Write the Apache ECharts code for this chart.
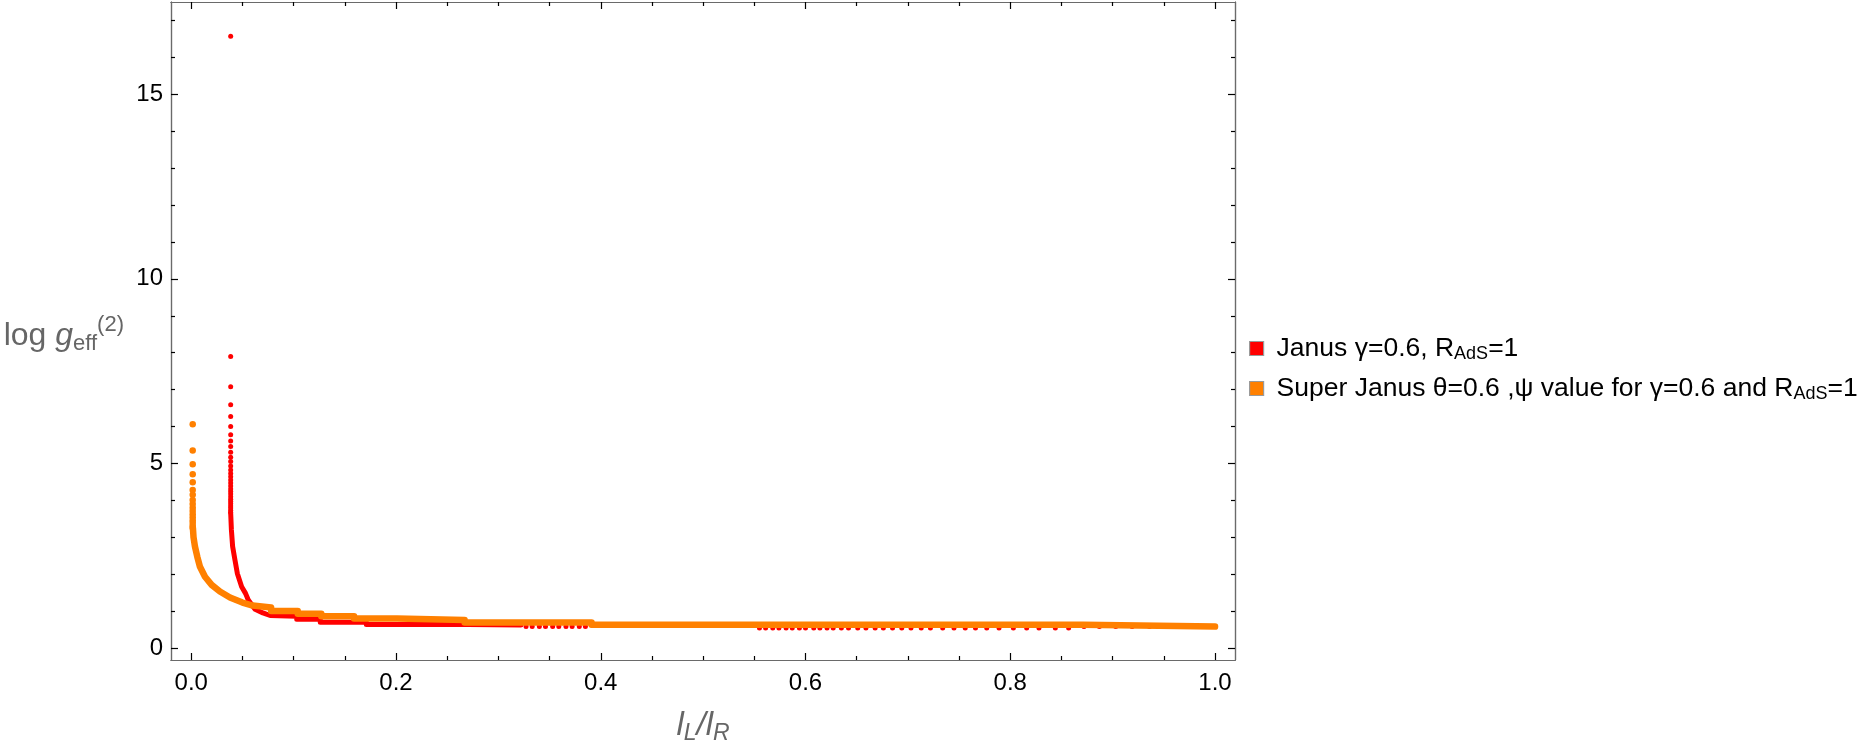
<!DOCTYPE html>
<html>
<head>
<meta charset="utf-8">
<script src="https://cdn.jsdelivr.net/npm/echarts@6/dist/echarts.min.js"></script>
<style>
  html, body { margin: 0; padding: 0; background: #fff; }
  #main { width: 1868px; height: 748px; }
</style>
</head>
<body>
<div id="main"></div>
<script>
// tick positions
const xMajor = [0, 0.2, 0.4, 0.6, 0.8, 1.0];
const xMinor = [0.05, 0.1, 0.15, 0.25, 0.3, 0.35, 0.45, 0.5, 0.55, 0.65, 0.7, 0.75, 0.85, 0.9, 0.95];
const yMajor = [0, 5, 10, 15];
const yMinor = [1, 2, 3, 4, 6, 7, 8, 9, 11, 12, 13, 14, 16, 17];

// Janus: isolated points near the spike
const janusSpike = [
  [0.0385, 16.57], [0.0385, 7.90], [0.0385, 7.08], [0.0385, 6.59], [0.0385, 6.27],
  [0.0385, 6.00], [0.0385, 5.78], [0.0385, 5.61], [0.0385, 5.46], [0.0385, 5.30],
  [0.0385, 5.17], [0.0385, 5.05], [0.0385, 4.93], [0.0385, 4.82], [0.0385, 4.73],
  [0.0385, 4.64], [0.0385, 4.55], [0.0385, 4.47], [0.0385, 4.39], [0.0385, 4.31],
  [0.0385, 4.24], [0.0385, 4.17], [0.0385, 4.10], [0.0385, 4.03], [0.0385, 3.97],
  [0.0385, 3.91], [0.0385, 3.85], [0.0385, 3.79], [0.0385, 3.73], [0.0385, 3.68]
];
// Janus: dense part (points overlap into a band)
const janusCurve = [
  [0.0385, 3.65], [0.0392, 3.2], [0.0404, 2.75], [0.0427, 2.38], [0.045, 2.02],
  [0.0492, 1.66], [0.053, 1.48], [0.0557, 1.30], [0.0623, 1.05], [0.070, 0.95],
  [0.077, 0.88], [0.103, 0.86], [0.103, 0.78], [0.126, 0.78], [0.126, 0.70],
  [0.171, 0.70], [0.171, 0.64], [0.27, 0.64], [0.27, 0.62], [0.322, 0.62]
];
// Janus: sparse points in the flat tail
const janusTail = [
  [0.327, 0.58], [0.333, 0.58], [0.340, 0.58], [0.346, 0.58], [0.353, 0.58],
  [0.359, 0.58], [0.366, 0.58], [0.372, 0.58], [0.379, 0.58], [0.385, 0.58],
  [0.392, 0.61], [0.406, 0.61], [0.420, 0.61], [0.434, 0.61], [0.448, 0.61],
  [0.462, 0.61], [0.476, 0.61], [0.490, 0.61], [0.504, 0.61], [0.518, 0.61],
  [0.532, 0.61], [0.546, 0.61],
  [0.555, 0.54], [0.561, 0.54], [0.568, 0.54], [0.574, 0.54], [0.581, 0.54],
  [0.587, 0.54], [0.594, 0.54], [0.600, 0.54], [0.608, 0.54], [0.614, 0.54],
  [0.621, 0.54], [0.627, 0.54], [0.635, 0.54], [0.642, 0.54], [0.651, 0.54],
  [0.659, 0.54], [0.668, 0.54], [0.676, 0.54], [0.685, 0.54], [0.694, 0.54],
  [0.703, 0.54], [0.713, 0.54], [0.722, 0.54], [0.734, 0.54], [0.745, 0.54],
  [0.756, 0.54], [0.766, 0.54], [0.777, 0.54], [0.789, 0.54], [0.803, 0.54],
  [0.816, 0.54], [0.828, 0.54], [0.844, 0.54], [0.857, 0.54], [0.872, 0.58],
  [0.887, 0.58], [0.903, 0.58], [0.919, 0.58], [0.936, 0.58], [0.953, 0.58],
  [0.970, 0.58], [0.988, 0.58]
];

// Super Janus: isolated points near x=0
const superSpike = [
  [0.0014, 6.06], [0.0014, 5.35], [0.0014, 4.98], [0.0014, 4.71], [0.0014, 4.49],
  [0.0014, 4.28], [0.0014, 4.15], [0.0014, 4.01], [0.0014, 3.90], [0.0014, 3.80],
  [0.0014, 3.71], [0.0014, 3.62], [0.0014, 3.54], [0.0014, 3.46], [0.0014, 3.39],
  [0.0014, 3.32], [0.0014, 3.26]
];
// Super Janus: dense part
const superCurve = [
  [0.0016, 3.25], [0.0022, 3.0], [0.0036, 2.75], [0.0059, 2.47], [0.0085, 2.2],
  [0.0134, 1.93], [0.0199, 1.71], [0.028, 1.53], [0.0378, 1.37], [0.050, 1.23],
  [0.060, 1.15], [0.060, 1.10], [0.078, 1.10], [0.078, 1.0], [0.104, 1.0],
  [0.104, 0.93], [0.127, 0.93], [0.127, 0.86], [0.159, 0.86], [0.159, 0.80],
  [0.201, 0.80], [0.201, 0.76], [0.267, 0.76], [0.267, 0.69], [0.391, 0.69],
  [0.391, 0.63], [0.871, 0.63], [0.871, 0.58], [1.0, 0.58]
];

const RED = '#ff0000';
const ORANGE = '#ff8000';
const FONT = '"Liberation Sans", Arial, sans-serif';
const X_MIN = -0.0198, X_MAX = 1.0195;
const Y_MIN = -0.325, Y_MAX = 17.5;

const legendNames = {
  janus: '{t|Janus γ=0.6, R}{sub|AdS}{t|=1}',
  super: '{t|Super Janus θ=0.6 ,ψ value for γ=0.6 and R}{sub|AdS}{t|=1}'
};

const chartDom = document.getElementById('main');
const myChart = echarts.init(chartDom, null, { renderer: 'canvas' });

const frameLine = { show: true, onZero: false, lineStyle: { color: '#6a6a6a', width: 1.2 } };

function xAx(pos, ticks, len, withLabel) {
  return {
    type: 'value', position: pos, min: X_MIN, max: X_MAX, offset: 0,
    axisLine: frameLine,
    splitLine: { show: false },
    axisTick: { show: true, inside: true, length: len, customValues: ticks, lineStyle: { color: '#000', width: 1.2 } },
    axisLabel: withLabel ? {
      show: true, customValues: ticks, margin: 11, color: '#000', fontSize: 24, fontFamily: FONT,
      formatter: v => v.toFixed(1)
    } : { show: false }
  };
}
function yAx(pos, ticks, len, withLabel) {
  return {
    type: 'value', position: pos, min: Y_MIN, max: Y_MAX, offset: 0,
    axisLine: frameLine,
    splitLine: { show: false },
    axisTick: { show: true, inside: true, length: len, customValues: ticks, lineStyle: { color: '#000', width: 1.2 } },
    axisLabel: withLabel ? {
      show: true, customValues: ticks, margin: 8, color: '#000', fontSize: 24, fontFamily: FONT
    } : { show: false }
  };
}

const xAxes = [
  xAx('bottom', xMajor, 7, true),
  xAx('bottom', xMinor, 4, false),
  xAx('top', xMajor, 7, false),
  xAx('top', xMinor, 4, false)
];
xAxes[0].name = '{i|l}{s|L}{i|/l}{s|R}';
xAxes[0].nameLocation = 'middle';
xAxes[0].nameGap = 47;
xAxes[0].nameTextStyle = {
  color: '#666', fontFamily: FONT,
  rich: {
    i: { fontSize: 33, fontStyle: 'italic', color: '#666', fontFamily: FONT },
    s: { fontSize: 23, fontStyle: 'italic', color: '#666', fontFamily: FONT, padding: [15, 0, 0, 0] }
  }
};

const yAxes = [
  yAx('left', yMajor, 7, true),
  yAx('left', yMinor, 4, false),
  yAx('right', yMajor, 7, false),
  yAx('right', yMinor, 4, false)
];
yAxes[0].name = '{t|log }{i|g}{s|eff}{p|(2)}';
yAxes[0].nameLocation = 'middle';
yAxes[0].nameRotate = 0;
yAxes[0].nameGap = 47;
yAxes[0].nameTextStyle = {
  color: '#666', fontFamily: FONT, padding: [10, 0, 0, 0],
  rich: {
    t: { fontSize: 32, color: '#666', fontFamily: FONT },
    i: { fontSize: 32, fontStyle: 'italic', color: '#666', fontFamily: FONT },
    s: { fontSize: 22, color: '#666', fontFamily: FONT, padding: [15, 0, 0, 0] },
    p: { fontSize: 22, color: '#666', fontFamily: FONT, padding: [0, 0, 23, 0] }
  }
};

const legendText = {
  color: '#000', fontFamily: FONT, fontSize: 26.5, padding: [0, 0, 0, 8],
  rich: {
    t: { fontSize: 26.5, color: '#000', fontFamily: FONT },
    sub: { fontSize: 18, color: '#000', fontFamily: FONT, padding: [12, 0, 0, 0] }
  }
};
function legendAt(name, top) {
  return {
    data: [name], orient: 'vertical', left: 1244, top: top,
    icon: 'rect', itemWidth: 14, itemHeight: 14,
    itemStyle: { borderColor: '#9a9a9a', borderWidth: 1.2 },
    selectedMode: false,
    formatter: n => legendNames[n],
    textStyle: legendText
  };
}

const option = {
  animation: false,
  backgroundColor: '#fff',
  grid: { left: 171, top: 2, width: 1064, height: 658, containLabel: false, outerBoundsMode: 'none' },
  legend: [legendAt('janus', 330), legendAt('super', 370)],
  xAxis: xAxes,
  yAxis: yAxes,
  series: [
    {
      name: 'janus', type: 'scatter', data: janusSpike, symbolSize: 5,
      itemStyle: { color: RED, opacity: 1 }, silent: true, z: 2
    },
    {
      name: 'janus', type: 'line', data: janusCurve, showSymbol: false, symbol: 'none',
      lineStyle: { color: RED, width: 5, cap: 'round', join: 'round' },
      itemStyle: { color: RED }, silent: true, z: 2
    },
    {
      name: 'janus', type: 'scatter', data: janusTail, symbolSize: 5,
      itemStyle: { color: RED, opacity: 1 }, silent: true, z: 2
    },
    {
      name: 'super', type: 'scatter', data: superSpike, symbolSize: 6.5,
      itemStyle: { color: ORANGE, opacity: 1 }, silent: true, z: 3
    },
    {
      name: 'super', type: 'line', data: superCurve, showSymbol: false, symbol: 'none',
      lineStyle: { color: ORANGE, width: 6.5, cap: 'round', join: 'round' },
      itemStyle: { color: ORANGE }, silent: true, z: 3
    }
  ]
};

myChart.setOption(option);
</script>
</body>
</html>
